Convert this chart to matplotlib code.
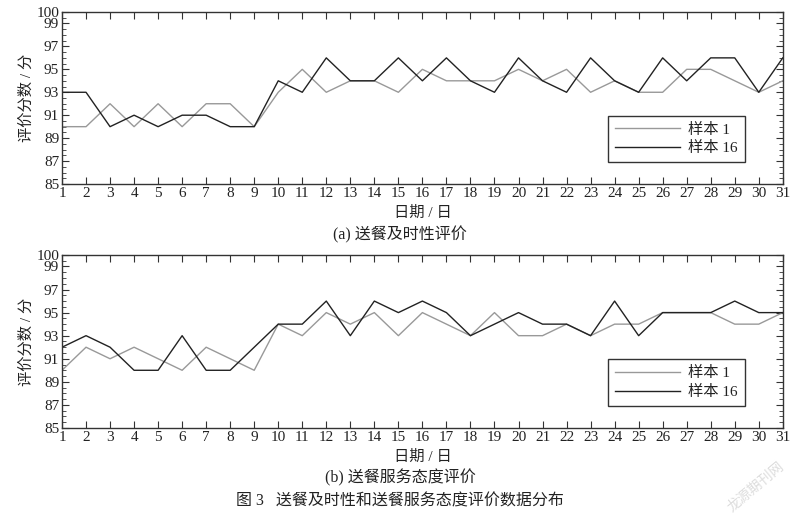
import matplotlib
matplotlib.use("Agg")
import matplotlib.pyplot as plt
from matplotlib.ticker import MultipleLocator

plt.rcParams['font.family'] = ['Liberation Serif', 'Noto Sans CJK SC', 'DejaVu Sans']

days = list(range(1, 32))
a_s1 = [90, 90, 92, 90, 92, 90, 92, 92, 90, 93, 95, 93, 94, 94, 93, 95, 94, 94, 94, 95, 94, 95, 93, 94, 93, 93, 95, 95, 94, 93, 94]
a_s16 = [93, 93, 90, 91, 90, 91, 91, 90, 90, 94, 93, 96, 94, 94, 96, 94, 96, 94, 93, 96, 94, 93, 96, 94, 93, 96, 94, 96, 96, 93, 96]
b_s1 = [90, 92, 91, 92, 91, 90, 92, 91, 90, 94, 93, 95, 94, 95, 93, 95, 94, 93, 95, 93, 93, 94, 93, 94, 94, 95, 95, 95, 94, 94, 95]
b_s16 = [92, 93, 92, 90, 90, 93, 90, 90, 92, 94, 94, 96, 93, 96, 95, 96, 95, 93, 94, 95, 94, 94, 93, 96, 93, 95, 95, 95, 96, 95, 95]
yticks = [85, 87, 89, 91, 93, 95, 97, 99, 100]
series_labels = ['样本 1', '样本 16']
subtitles = ['(a) 送餐及时性评价', '(b) 送餐服务态度评价']
caption = '图 3   送餐及时性和送餐服务态度评价数据分布'

fig = plt.figure(figsize=(8, 5.15), dpi=100)
positions = [[0.0775, 0.6427, 0.901, 0.334], [0.0775, 0.169, 0.901, 0.336]]
datasets = [(a_s1, a_s16), (b_s1, b_s16)]
sub_y = [0.545, 0.072]

for pos, (s1, s16), sub, sy in zip(positions, datasets, subtitles, sub_y):
    ax = fig.add_axes(pos)
    ax.plot(days, s1, color='#999999', lw=1.0, label=series_labels[0])
    ax.plot(days, s16, color='#222222', lw=1.0, label=series_labels[1])
    ax.set_xlim(1, 31)
    ax.set_ylim(85, 100)
    ax.set_xticks(days)
    ax.set_yticks(yticks)
    ax.yaxis.set_minor_locator(MultipleLocator(0.5))
    ax.tick_params(axis='both', which='major', direction='in', length=5, width=0.8,
                   top=True, right=True, labelsize=11, pad=2, colors='#333333')
    ax.tick_params(axis='y', which='minor', direction='in', length=3, width=0.6,
                   left=True, right=True, colors='#333333')
    for lab in ax.get_xticklabels() + ax.get_yticklabels():
        lab.set_color('#222222')
    for sp in ax.spines.values():
        sp.set_linewidth(1.0)
        sp.set_color('#333333')
    ax.set_ylabel('评价分数 / 分', fontsize=11, labelpad=2, color='#222222')
    ax.set_xlabel('日期 / 日', fontsize=11, labelpad=4, color='#222222')
    leg = ax.legend(loc='lower right', bbox_to_anchor=(0.947, 0.128), borderaxespad=0,
                    fancybox=False, edgecolor='#333333', fontsize=11, handlelength=4.3,
                    handletextpad=0.5, labelspacing=0.3, borderpad=0.45, framealpha=1)
    leg.get_frame().set_linewidth(1.0)
    for t in leg.get_texts():
        t.set_color('#222222')
    fig.text(0.5, sy, sub, ha='center', va='center', fontsize=11.5, color='#222222')

fig.text(0.5, 0.026, caption, ha='center', va='center', fontsize=11.5, color='#222222')
fig.text(0.945, 0.055, '龙源期刊网', ha='center', va='center', fontsize=10, color='#dddddd',
         rotation=40, style='italic')

fig.savefig('out.png', dpi=100)
